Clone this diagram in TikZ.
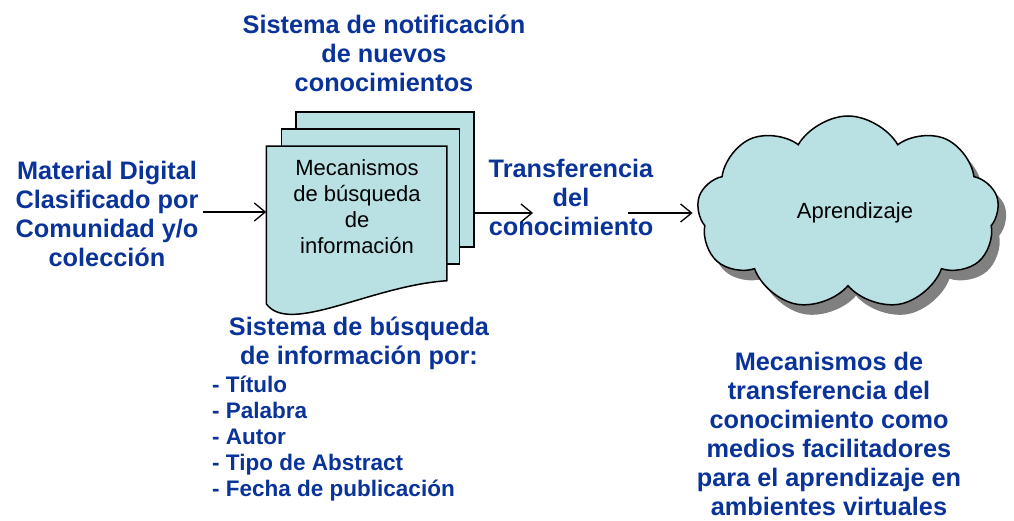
\documentclass[tikz,border=0pt]{standalone}
\usepackage{fontspec}
\setmainfont{Liberation Sans}
\usetikzlibrary{arrows.meta,positioning,calc,shapes.symbols,shadows}
\definecolor{notiblue}{HTML}{0A3399}
\definecolor{pagefill}{HTML}{B9E0E3}

\begin{document}
\begin{tikzpicture}[x=1pt, y=-1pt,
  headtxt/.style={text=notiblue, font=\bfseries\fontsize{25.3}{29}\selectfont, align=center, inner sep=0pt},
  listtxt/.style={text=notiblue, font=\bfseries\fontsize{22.5}{26}\selectfont, align=left, inner sep=0pt},
  page/.style={draw=black, line width=1.5pt, fill=pagefill, minimum width=178pt, minimum height=135pt, inner sep=0pt},
  pagetxt/.style={font=\fontsize{22}{26}\selectfont, align=center, inner sep=0pt},
  cloudbox/.style={cloud, cloud puffs=9, cloud puff arc=120, aspect=1.55, draw=black, line width=1.5pt, fill=pagefill, minimum width=302pt, minimum height=194pt, font=\fontsize{22}{26}\selectfont, drop shadow={shadow xshift=8pt, shadow yshift=-10pt, fill=black!50, opacity=1}},
  arr/.style={-{Straight Barb[length=11pt,width=18pt]}, line width=1.3pt}
]
\useasboundingbox (0,0) rectangle (1014,521);
\node[headtxt] (notif) at (384,53) {Sistema de notificación\\de nuevos\\conocimientos};
% stack of pages
\node[page] (back) at (385,179.5) {};
\node[page] (mid) at (370.5,196.5) {};
\node[page, draw=none, fill=none, minimum width=179pt, minimum height=156pt] (front) at (356.5,225) {};
\draw[line width=1.5pt, fill=pagefill] (front.south west) -- (front.north west) -- (front.north east) -- ($(front.south east)+(0,-23)$) .. controls +(-76,5) and +(23,32) .. (front.south west) -- cycle;
\node[pagetxt] (mec) at (357,207) {Mecanismos\\de búsqueda\\de\\información};
\node[headtxt] (matdig) at (107,214) {Material Digital\\Clasificado por\\Comunidad y/o\\colección};
\node[headtxt] (transf) at (571,197) {Transferencia\\del\\conocimiento};
\node[cloudbox] (learn) at (848,213) {};
\node[font=\fontsize{22}{26}\selectfont] (aprend) at (855,213) {Aprendizaje};
\coordinate (a1) at (203,212);
\coordinate (t1) at (533,213);
\coordinate (t2) at (628,213);
\draw[arr] (a1) -- (front.west |- a1);
\draw[arr] (back.east |- t1) -- (t1);
\draw[arr, shorten >=5pt] (t2) -- (learn.west |- t2);
\node[headtxt] (busq) at (359,343) {Sistema de búsqueda\\de información por:};
\node[listtxt, anchor=west] (campos) at (212,439) {- Título\\- Palabra\\- Autor\\- Tipo de Abstract\\- Fecha de publicación};
\node[headtxt] (mecanismos) at (829,434) {Mecanismos de\\transferencia del\\conocimiento como\\medios facilitadores\\para el aprendizaje en\\ambientes virtuales};
\end{tikzpicture}
\end{document}
